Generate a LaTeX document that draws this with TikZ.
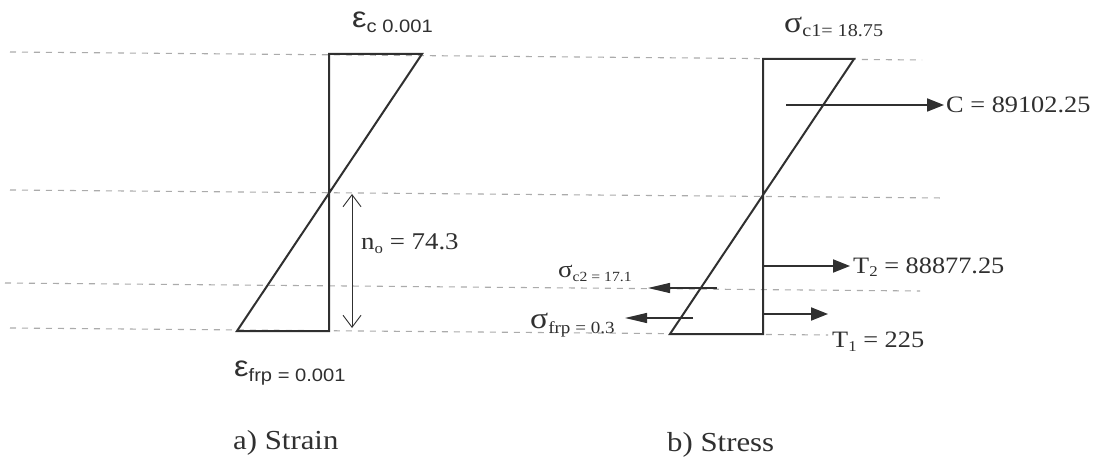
\documentclass[tikz,border=0pt]{standalone}
\usepackage{fontspec}
\newfontfamily\tms{Liberation Serif}[FakeStretch=1.12]
\newfontfamily\ars{Liberation Sans}[FakeStretch=1.12]
\usetikzlibrary{arrows.meta}
\definecolor{ink}{HTML}{303030}
\definecolor{dashc}{HTML}{ABABAB}
\newcommand{\fs}[1]{\fontsize{#1}{#1}\selectfont}
\newcommand{\lowsub}[3]{\raisebox{-#1pt}{\fs{#2}#3}}
\begin{document}
\begin{tikzpicture}[x=1pt,y=-1pt,
  guide/.style={draw=dashc,line width=1.1pt,dash pattern=on 6pt off 6pt},
  outline/.style={draw=ink,line width=2pt,line join=miter},
  force/.style={draw=ink,line width=1.8pt,-{Triangle[length=17pt,width=13pt]}},
  stressarr/.style={draw=ink,line width=1.2pt,-{Triangle[length=22pt,width=10pt]}},
  dim/.style={draw=ink,line width=0.9pt,{Straight Barb[length=12pt,width=18pt]}-{Straight Barb[length=12pt,width=18pt]}},
  lbl/.style={inner sep=0pt,anchor=base west,text=ink}]

\useasboundingbox[fill=white] (0,0) rectangle (1093,457);

% guide lines
\coordinate (g1a) at (10,52);  \coordinate (g1b) at (922,60);
\coordinate (g2a) at (10,190); \coordinate (g2b) at (945,198);
\coordinate (g3a) at (5,283);  \coordinate (g3b) at (920,291);
\coordinate (g4a) at (10,328); \coordinate (g4b) at (828,335);
\draw[guide] (g1a) -- (g1b);
\draw[guide] (g2a) -- (g2b);
\draw[guide] (g3a) -- (g3b);
\draw[guide] (g4a) -- (g4b);

% strain diagram
\coordinate (eTL) at (329,54);
\coordinate (eTR) at (422,54);
\coordinate (eBR) at (329,331);
\coordinate (eBL) at (237,331);
\draw[outline] (eTR) -- (eTL) -- (eBR) -- (eBL) -- cycle;

\coordinate (nTop) at (352,194);
\coordinate (nBot) at (352,328);
\draw[dim] (nTop) -- (nBot);

% stress diagram
\coordinate (sTL) at (763,59);
\coordinate (sTR) at (854,59);
\coordinate (sBR) at (763,334);
\coordinate (sBL) at (670,334);
\draw[outline] (sTR) -- (sTL) -- (sBR) -- (sBL) -- cycle;

\coordinate (Cs) at (786,105);  \coordinate (Ce) at (944,105);
\coordinate (T2s) at (763,266); \coordinate (T2e) at (850,266);
\coordinate (T1s) at (763,314); \coordinate (T1e) at (828,314);
\coordinate (c2s) at (717,288); \coordinate (c2e) at (648,288);
\coordinate (fs) at (693,318);  \coordinate (fe) at (625,318);
\draw[force] (Cs) -- (Ce);
\draw[force] (T2s) -- (T2e);
\draw[force] (T1s) -- (T1e);
\draw[stressarr] (c2s) -- (c2e);
\draw[stressarr] (fs) -- (fe);

% labels
\node[lbl] (epsc) at (352,28) {\ars\fs{29}ε\lowsub{5}{18}{c 0.001}};
\node[lbl] (epsf) at (234,376) {\ars\fs{29}ε\lowsub{5}{18}{frp = 0.001}};
\node[lbl] (nol) at (361,250) {\tms\fs{24}n\lowsub{4}{15}{o} = 74.3};
\node[lbl] (sc1) at (784,33) {\tms\fs{30}σ\lowsub{4}{18}{c1= 18.75}};
\node[lbl] (sc2) at (558,278) {\tms\fs{24}σ\lowsub{4}{14}{c2 = 17.1}};
\node[lbl] (sfrp) at (530,328) {\tms\fs{30}σ\lowsub{5}{17}{frp = 0.3}};
\node[lbl] (Cl) at (946,113) {\tms\fs{23.5}C = 89102.25};
\node[lbl] (T2l) at (853,273) {\tms\fs{23.5}T\lowsub{4}{15}{2} = 88877.25};
\node[lbl] (T1l) at (832,347) {\tms\fs{23.5}T\lowsub{4}{15}{1} = 225};
\node[lbl] (capa) at (233,449) {\tms\fs{27.5}a) Strain};
\node[lbl] (capb) at (667,451) {\tms\fs{27.5}b) Stress};
\end{tikzpicture}
\end{document}
